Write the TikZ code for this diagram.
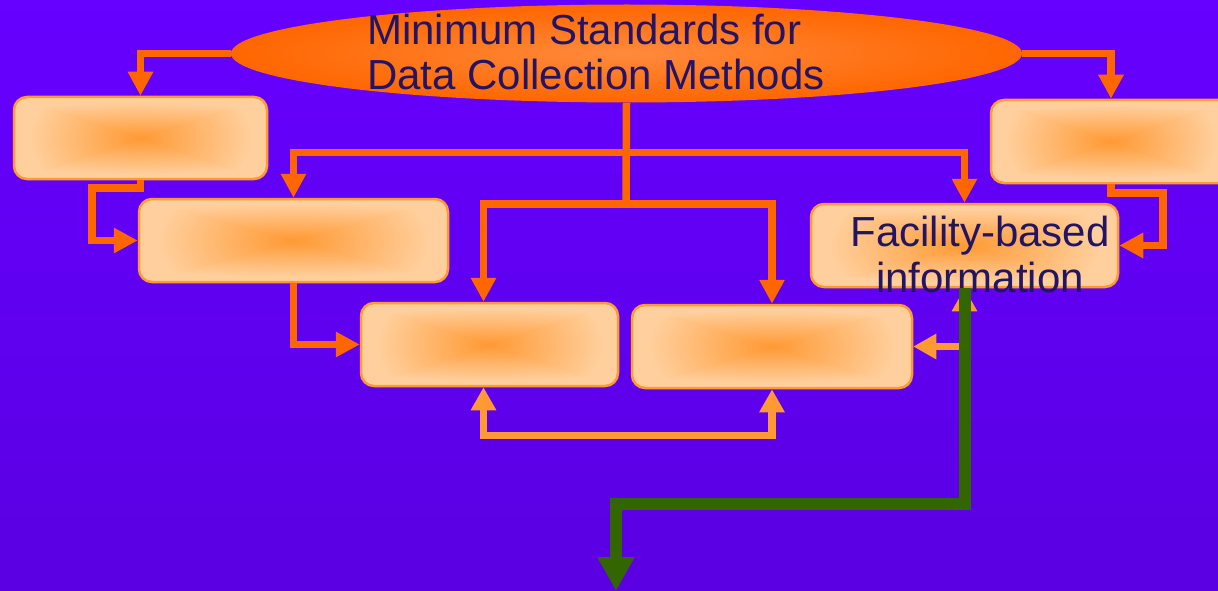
\documentclass[tikz,border=0pt]{standalone}
\usepackage{fontspec}
\setmainfont{Liberation Sans}
\usetikzlibrary{arrows.meta,shapes.geometric}

\definecolor{bgtop}{HTML}{6600FF}
\definecolor{bgbot}{HTML}{5A00E2}
\definecolor{hotline}{HTML}{FF6600}
\definecolor{softline}{HTML}{FF9933}
\definecolor{boxedge}{HTML}{FF9933}
\definecolor{ellcore}{HTML}{FF8A3D}
\definecolor{ellrim}{HTML}{FF6600}
\definecolor{ink}{HTML}{231464}
\definecolor{exitline}{HTML}{336600}

% soft "from centre" glow: orange core fading to pale peach at the rim
% (mostly rectangular distance, a little round distance to soften the diagonals)
\pgfdeclarefunctionalshading{boxglow}{\pgfpoint{0bp}{0bp}}{\pgfpoint{100bp}{100bp}}{}{
  50 sub abs 25 div exch 50 sub abs 25 div
  2 copy dup mul exch dup mul add sqrt 0.3 mul
  3 1 roll
  2 copy lt {exch} if pop 0.7 mul
  add
  1.12 mul dup 1 gt {pop 1} if
  dup 0.215 mul 0.6 add exch 0.42 mul 0.2 add
  1 3 1 roll
}

\begin{document}
\begin{tikzpicture}[x=1pt,y=-1pt,
  box/.style={draw=boxedge,line width=2.5pt,rounded corners=13pt,shading=boxglow,
    minimum width=#1,minimum height=83pt,inner sep=0pt},
  oval/.style={ellipse,inner sep=0pt,minimum width=791pt,minimum height=98pt,
    inner color=ellcore,outer color=ellrim},
  heading/.style={inner sep=0pt,align=left,text=ink,font=\fontsize{42}{45}\selectfont},
  boxtext/.style={inner sep=0pt,align=center,text=ink,font=\fontsize{42}{46}\selectfont},
  hotarrow/.style={draw=hotline,line width=7.5pt,-{Triangle[width=24pt,length=24pt]}},
  hotplain/.style={draw=hotline,line width=7.5pt},
  softarrows/.style={draw=softline,line width=7.5pt,
    {Triangle[width=24pt,length=23pt]}-{Triangle[width=24pt,length=23pt]}},
  exitarrow/.style={draw=exitline,line width=12pt,-{Triangle[width=35pt,length=34pt]}}
]
\useasboundingbox (0,0) rectangle (1218,591);
\clip (0,0) rectangle (1218,591);
\fill[top color=bgtop,bottom color=bgbot] (0,0) rectangle (1218,591);

% boxes
\node[box=253pt,minimum height=82pt] (A) at (140.5,138) {};
\node[box=309pt] (B) at (293.5,240.5) {};
\node[box=257pt] (C) at (489.5,344.5) {};
\node[box=280pt] (D) at (772,346.5) {};
\node[box=240pt] (E) at (1111,141.5) {};
\node[box=307pt] (F) at (964.5,245.5) {};

% title oval
\node[oval] (top) at (626.5,53.5) {};
\node[heading,anchor=west] (title) at (367,52) {Minimum Standards for\\Data Collection Methods};

% junctions and bends
\coordinate (j1) at (626,152.5);
\coordinate (j2) at (626,204);
\coordinate (ab) at (92,188);
\coordinate (ef) at (1163,193);
\coordinate (cd) at (628,435.5);
\coordinate (gturn) at (616,503.5);
\coordinate (gend) at (616,591);

% connectors from the title
\draw[hotarrow] (top.west) -| (A.north);
\draw[hotarrow] (top.east) -| (E.north);
\draw[hotplain] (top.south) -- (j2);
\draw[hotarrow] (j1) -| (B.north);
\draw[hotarrow] (j1) -| (F.north);
\draw[hotarrow] (j2) -| ([xshift=-6pt]C.north);
\draw[hotarrow] (j2) -| (D.north);

% box-to-box links
\draw[hotarrow] (A.south) |- (ab) |- (B.west);
\draw[hotarrow] (B.south) |- (C.west);
\draw[hotarrow] (E.south) |- (ef) |- (F.east);
\draw[softarrows] (D.east) -| (F.south);
\draw[softarrows] ([xshift=-6pt]C.south) |- (cd) -| (D.south);

\node[boxtext] (ftext) at (980,254) {Facility-based\\information};

% outgoing link
\draw[exitarrow] (F.south) |- (gturn) -- (gend);
\end{tikzpicture}
\end{document}
